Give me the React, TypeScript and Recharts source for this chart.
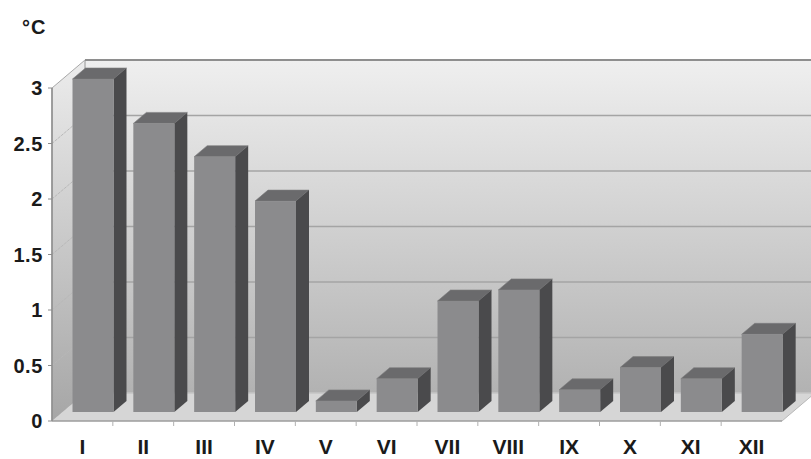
import { Bar, BarChart, CartesianGrid, XAxis, YAxis } from "recharts"

// monthly values, °C
const months = ["I", "II", "III", "IV", "V", "VI", "VII", "VIII", "IX", "X", "XI", "XII"]
const temps = [3.0, 2.6, 2.3, 1.9, 0.1, 0.3, 1.0, 1.1, 0.2, 0.4, 0.3, 0.7]
const yTicks = [0, 0.5, 1, 1.5, 2, 2.5, 3]

const data = months.map((month, i) => ({ month, temp: temps[i] }))

const W = 811
const H = 459
const LEFT = 52
const TOP = 88
const RIGHT = 782
const BOTTOM = 421
// depth of the room (back wall offset) and of a single bar
const DX = 33
const DY = -28
const BAR_SHIFT_X = 10.5
const BAR_SHIFT_Y = -9
const BAR_DX = 13
const BAR_DY = -11
const BAND = (RIGHT - LEFT) / months.length

const FONT = "'Liberation Sans', Arial, Helvetica, sans-serif"

function Block3D(props: any) {
  const { x, y, width, height } = props
  if (width == null || height == null || height <= 0) return null
  const fx = x + BAR_SHIFT_X
  const fy = y + BAR_SHIFT_Y
  const top = `${fx},${fy} ${fx + BAR_DX},${fy + BAR_DY} ${fx + width + BAR_DX},${fy + BAR_DY} ${fx + width},${fy}`
  const side = `${fx + width},${fy} ${fx + width + BAR_DX},${fy + BAR_DY} ${fx + width + BAR_DX},${fy + height + BAR_DY} ${fx + width},${fy + height}`
  return (
    <g>
      <polygon points={top} fill="#6a6a6c" stroke="#7c7c7e" strokeWidth={0.6} />
      <polygon points={side} fill="#4a4a4c" />
      <rect x={fx} y={fy} width={width} height={height} fill="#8b8b8d" />
    </g>
  )
}

// each horizontal grid line is drawn on the back wall, with its slanted part on the left wall
function WallLine(props: any) {
  const { x1, y1, x2, index } = props
  const isTop = Math.abs(y1 - TOP) < 0.5
  const isFloor = Math.abs(y1 - BOTTOM) < 0.5
  return (
    <g key={`wl-${index}`}>
      {!isFloor && !isTop && (
        <line x1={x1} y1={y1} x2={x1 + DX} y2={y1 + DY} stroke="#b8b8b8" strokeWidth={1} strokeDasharray="3 1" />
      )}
      <line
        x1={x1 + DX}
        y1={y1 + DY}
        x2={x2 + DX + 40}
        y2={y1 + DY}
        stroke={isTop ? "#8e8e8e" : isFloor ? "#c4c4c4" : "#a4a4a4"}
        strokeWidth={isTop ? 2 : 1.5}
      />
    </g>
  )
}

function MonthTick(props: any) {
  const { x, y, payload, index } = props
  return (
    <g>
      {index > 0 && <line x1={x - BAND / 2} y1={y} x2={x - BAND / 2} y2={y + 5} stroke="#b0b0b0" />}
      <text x={x} y={y + 33} textAnchor="middle" fontFamily={FONT} fontWeight="bold" fontSize={21} fill="#1a1a1a">
        {payload.value}
      </text>
    </g>
  )
}

function Room() {
  return (
    <svg width={W} height={H} style={{ position: "absolute", left: 0, top: 0 }}>
      <defs>
        <linearGradient id="backWall" x1="0" y1="0" x2="0" y2="1">
          <stop offset="0%" stopColor="#efefef" />
          <stop offset="100%" stopColor="#b2b2b2" />
        </linearGradient>
        <linearGradient id="sideWall" x1="0" y1="0" x2="0" y2="1">
          <stop offset="0%" stopColor="#ececec" />
          <stop offset="100%" stopColor="#a6a6a6" />
        </linearGradient>
      </defs>
      <rect x={LEFT + DX} y={TOP + DY} width={W} height={BOTTOM - TOP} fill="url(#backWall)" />
      <polygon
        points={`${LEFT},${TOP} ${LEFT + DX},${TOP + DY} ${LEFT + DX},${BOTTOM + DY} ${LEFT},${BOTTOM}`}
        fill="url(#sideWall)"
        stroke="#a8a8a8"
        strokeWidth={1}
      />
      <line x1={LEFT + DX} y1={TOP + DY} x2={LEFT + DX} y2={BOTTOM + DY} stroke="#b8b8b8" />
      <polygon
        points={`${LEFT},${BOTTOM} ${RIGHT},${BOTTOM} ${RIGHT + DX},${BOTTOM + DY} ${LEFT + DX},${BOTTOM + DY}`}
        fill="#d6d6d6"
      />
      <line x1={RIGHT} y1={BOTTOM} x2={RIGHT + DX} y2={BOTTOM + DY} stroke="#b8b8b8" />
      <text x={22} y={34} fontFamily={FONT} fontWeight="bold" fontSize={20} letterSpacing={1} fill="#1a1a1a">
        °C
      </text>
    </svg>
  )
}

export default function App() {
  return (
    <div style={{ position: "absolute", left: 0, top: 0, width: W, height: H, background: "#fff" }}>
      <Room />
      <div style={{ position: "absolute", left: 0, top: 0 }}>
        <BarChart width={W} height={H} data={data} margin={{ top: TOP, right: W - RIGHT, bottom: 8, left: 8 }}>
          <CartesianGrid vertical={false} horizontal={(p: any) => <WallLine {...p} />} />
          <XAxis
            dataKey="month"
            height={30}
            interval={0}
            axisLine={{ stroke: "#9c9c9c", strokeWidth: 1.5 }}
            tickLine={false}
            tickSize={0}
            tickMargin={0}
            tick={<MonthTick />}
          />
          <YAxis
            width={44}
            domain={[0, 3]}
            ticks={yTicks}
            interval={0}
            axisLine={{ stroke: "#8c8c8c", strokeWidth: 1.5 }}
            tickLine={{ stroke: "#8c8c8c" }}
            tickSize={4}
            tickMargin={5}
            tick={{ fill: "#1a1a1a", fontFamily: FONT, fontWeight: "bold", fontSize: 20, letterSpacing: 0.6 }}
          />
          <Bar dataKey="temp" barSize={41} shape={<Block3D />} isAnimationActive={false} />
        </BarChart>
      </div>
    </div>
  )
}
